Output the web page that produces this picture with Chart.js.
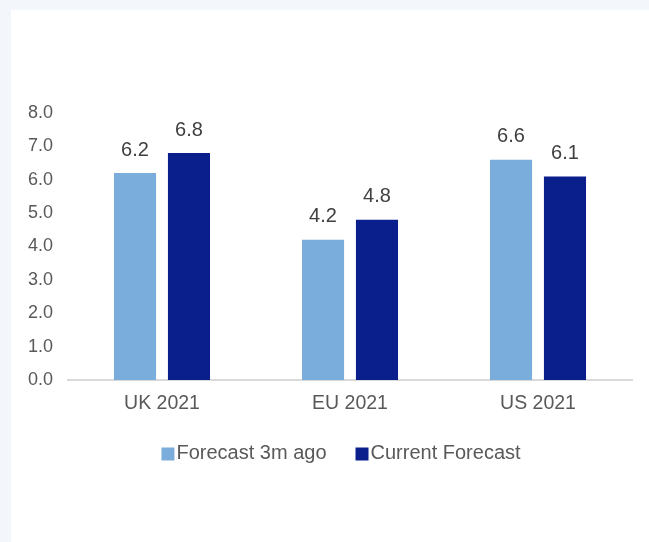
<!DOCTYPE html>
<html>
<head>
<meta charset="utf-8">
<script src="https://cdn.jsdelivr.net/npm/chart.js@4"></script>
<style>
  html, body { margin: 0; padding: 0; background: #f3f6fb; }
  #panel { position: absolute; left: 11px; top: 10px; width: 638px; height: 532px; background: #fff; }
</style>
</head>
<body>
<div id="panel"><canvas id="chart"></canvas></div>
<script>
// Chart data
const categories = ['UK 2021', 'EU 2021', 'US 2021'];
const seriesNames = ['Forecast 3m ago', 'Current Forecast'];
const forecast3mAgo = [6.2, 4.2, 6.6];
const currentForecast = [6.8, 4.8, 6.1];
const yTicks = [0, 1, 2, 3, 4, 5, 6, 7, 8];

const colors = ['#7aaddb', '#0a1e8c'];
const fontFamily = '"Liberation Sans", Arial, sans-serif';

// Value labels above each bar
const valueLabels = {
    id: 'valueLabels',
    afterDatasetsDraw(chart) {
        const ctx = chart.ctx;
        ctx.save();
        ctx.font = '20px ' + fontFamily;
        ctx.fillStyle = '#404040';
        ctx.textAlign = 'center';
        ctx.textBaseline = 'middle';
        chart.data.datasets.forEach((ds, i) => {
            chart.getDatasetMeta(i).data.forEach((bar, j) => {
                ctx.fillText(ds.data[j].toFixed(1), bar.x, bar.y - 23);
            });
        });
        ctx.restore();
    }
};

// Legend drawn with tight box/text spacing
const tightLegend = {
    id: 'tightLegend',
    afterDraw(chart) {
        const ctx = chart.ctx;
        ctx.save();
        ctx.font = '20px ' + fontFamily;
        ctx.textBaseline = 'middle';
        const box = 13, gap = 2, spacing = 29;
        const widths = chart.data.datasets.map(ds => box + gap + ctx.measureText(ds.label).width);
        const total = widths.reduce((a, b) => a + b, 0) + spacing * (widths.length - 1);
        let x = chart.width / 2 + 11 - total / 2;
        const y = chart.chartArea.bottom + 73;
        chart.data.datasets.forEach((ds, i) => {
            ctx.fillStyle = ds.backgroundColor;
            ctx.fillRect(x, y - box / 2 + 1, box, box);
            ctx.fillStyle = '#595959';
            ctx.fillText(ds.label, x + box + gap, y);
            x += widths[i] + spacing;
        });
        ctx.restore();
    }
};

const ctx = document.getElementById('chart').getContext('2d');
new Chart(ctx, {
    type: 'bar',
    data: {
        labels: categories,
        datasets: [
            { label: seriesNames[0], data: forecast3mAgo, backgroundColor: colors[0] },
            { label: seriesNames[1], data: currentForecast, backgroundColor: colors[1] }
        ]
    },
    options: {
        responsive: true,
        maintainAspectRatio: false,
        animation: false,
        categoryPercentage: 0.574,
        barPercentage: 0.78,
        layout: { padding: { top: 103, right: 17, bottom: 112, left: 0 } },
        plugins: {
            legend: { display: false },
            tooltip: { enabled: false }
        },
        scales: {
            x: {
                grid: { display: false, drawTicks: false },
                border: { display: true, color: '#d9d9d9', width: 2 },
                ticks: { color: '#595959', padding: 12, font: { family: fontFamily, size: 19.5 } },
                afterFit(scale) { scale.height = 50; }
            },
            y: {
                min: 0,
                max: 8,
                grid: { display: false, drawTicks: false },
                border: { display: false },
                afterBuildTicks(scale) { scale.ticks = yTicks.map(v => ({ value: v })); },
                ticks: {
                    color: '#595959',
                    padding: 15,
                    font: { family: fontFamily, size: 18 },
                    callback: v => v.toFixed(1)
                },
                afterFit(scale) { scale.width = 57; }
            }
        }
    },
    plugins: [valueLabels, tightLegend]
});
</script>
</body>
</html>
